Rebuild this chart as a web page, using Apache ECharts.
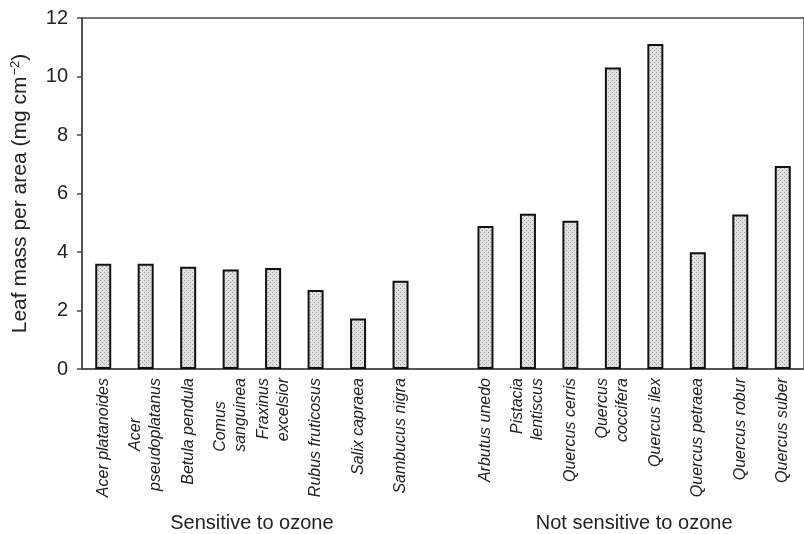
<!DOCTYPE html>
<html>
<head>
<meta charset="utf-8">
<script src="https://cdn.jsdelivr.net/npm/echarts@6/dist/echarts.min.js"></script>
<style>
html,body{margin:0;padding:0;background:#fff;}
#chart{width:804px;height:534px;}
</style>
</head>
<body>
<div id="chart"></div>
<script>
// ---- Data ----
var sensitiveSpecies = ['Acer platanoides', 'Acer\npseudoplatanus', 'Betula pendula', 'Comus\nsanguinea', 'Fraxinus\nexcelsior', 'Rubus fruticosus', 'Salix capraea', 'Sambucus nigra'];
var sensitiveLMA = [3.6, 3.6, 3.5, 3.4, 3.45, 2.7, 1.73, 3.02];
var notSensitiveSpecies = ['Arbutus unedo', 'Pistacia\nlentiscus', 'Quercus cerris', 'Quercus\ncoccifera', 'Quercus ilex', 'Quercus petraea', 'Quercus robur', 'Quercus suber'];
var notSensitiveLMA = [4.89, 5.31, 5.07, 10.31, 11.11, 3.99, 5.28, 6.94];
var groupNames = ['Sensitive to ozone', 'Not sensitive to ozone'];
var yTicks = [0, 2, 4, 6, 8, 10, 12];

// ---- Build ----
var categories = sensitiveSpecies.concat([''], notSensitiveSpecies);
var values = sensitiveLMA.concat([null], notSensitiveLMA);

var FONT = '"Liberation Sans", Arial, Helvetica, sans-serif';

// dotted fill pattern
var pat = document.createElement('canvas');
pat.width = 4; pat.height = 4;
var pc = pat.getContext('2d');
pc.fillStyle = '#e0e0e0'; pc.fillRect(0, 0, 4, 4);
pc.fillStyle = '#9c9c9c';
pc.fillRect(0, 0, 1, 1); pc.fillRect(2, 2, 1, 1);

// line alignment for multi-line rotated labels (style only)
var firstLineAlign = { 'Acer\npseudoplatanus': 'c', 'Comus\nsanguinea': 'l' };

var labelStyle = { fontSize: 16, fontStyle: 'italic', fontFamily: FONT, color: '#222', lineHeight: 20 };
function richStyle(al) { return Object.assign({ align: al }, labelStyle); }

var chart = echarts.init(document.getElementById('chart'), null, { renderer: 'canvas' });
var option = {
  animation: false,
  backgroundColor: '#fff',
  grid: { left: 82, top: 18, bottom: 165, width: 731, show: true, borderColor: '#4a4a4a', borderWidth: 1.5, backgroundColor: 'transparent' },
  xAxis: {
    type: 'category',
    data: categories,
    axisLine: { lineStyle: { color: '#4a4a4a', width: 1.5 } },
    axisTick: { show: false },
    axisLabel: {
      interval: 0, rotate: 90, margin: 9,
      fontSize: 16, fontStyle: 'italic', fontFamily: FONT, color: '#222', lineHeight: 20,
      formatter: function (v) {
        if (!v) return '';
        var parts = v.split('\n');
        if (parts.length === 1) return '{r|' + v + '}';
        var a = firstLineAlign[v] || 'r';
        return '{' + a + '|' + parts[0] + '}\n{r|' + parts[1] + '}';
      },
      rich: { r: richStyle('right'), c: richStyle('center'), l: richStyle('left') }
    }
  },
  yAxis: {
    type: 'value',
    min: yTicks[0], max: yTicks[yTicks.length - 1], interval: 2,
    splitLine: { show: false },
    axisLine: { show: true, lineStyle: { color: '#4a4a4a', width: 1.5 } },
    axisTick: { show: true, length: 5, lineStyle: { color: '#4a4a4a', width: 1.5 } },
    axisLabel: { fontSize: 20, fontFamily: FONT, color: '#222', margin: 14 },
    name: '{a|Leaf mass per area (mg cm}{s|−2}{a|)}',
    nameLocation: 'middle',
    nameGap: 50,
    nameTextStyle: {
      fontFamily: FONT, color: '#222',
      rich: {
        a: { fontSize: 21, fontFamily: FONT, color: '#222', lineHeight: 24 },
        s: { fontSize: 13, fontFamily: FONT, color: '#222', lineHeight: 13, verticalAlign: 'top', padding: [1, 0, 0, 1] }
      }
    }
  },
  series: [{
    type: 'bar',
    data: values,
    barWidth: 16,
    itemStyle: { color: { image: pat, repeat: 'repeat' }, borderColor: '#111', borderWidth: 2 }
  }]
};
chart.setOption(option);

// group titles centered under each group, positioned via the axis
function px(i) { return chart.convertToPixel({ xAxisIndex: 0 }, i); }
var n1 = sensitiveSpecies.length;
var c1 = (px(0) + px(n1 - 1)) / 2;
var c2 = (px(n1 + 1) + px(categories.length - 1)) / 2;
var yTitle = chart.convertToPixel({ yAxisIndex: 0 }, 0) + 154;
chart.setOption({
  graphic: [
    { type: 'text', x: c1, y: yTitle, style: { text: groupNames[0], font: '20px ' + FONT, fill: '#222', align: 'center', verticalAlign: 'middle' } },
    { type: 'text', x: c2, y: yTitle, style: { text: groupNames[1], font: '20px ' + FONT, fill: '#222', align: 'center', verticalAlign: 'middle' } }
  ]
});
</script>
</body>
</html>
